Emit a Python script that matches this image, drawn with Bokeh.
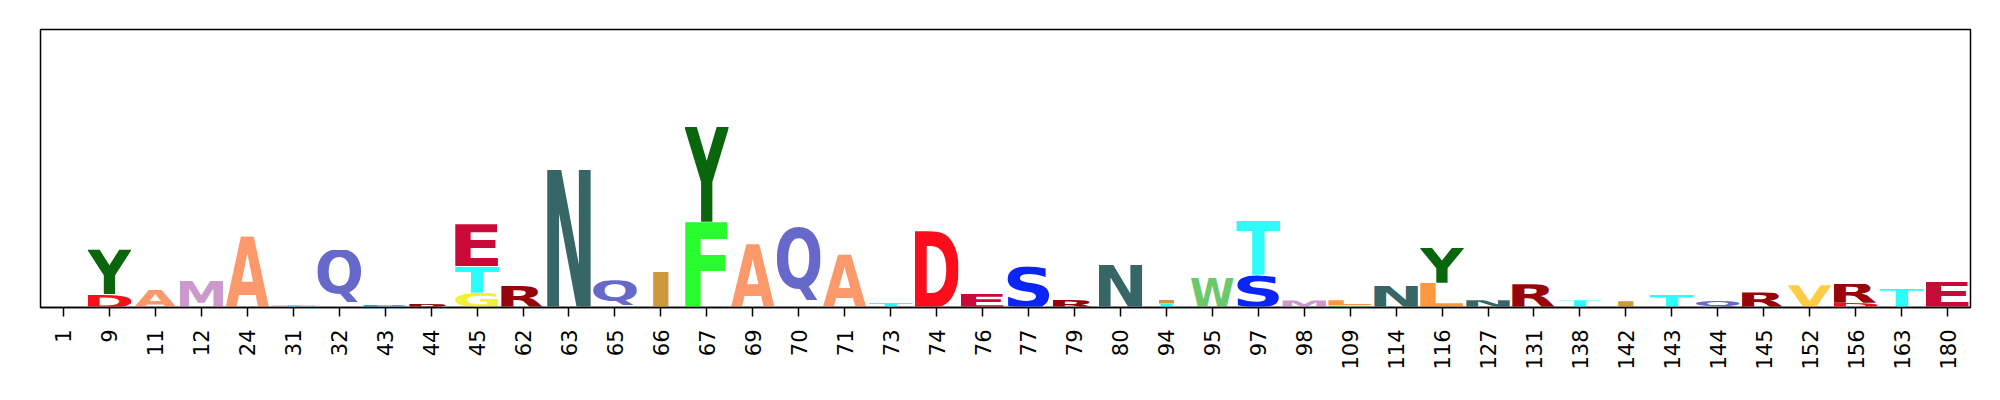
import math
from urllib.parse import quote

from bokeh.plotting import figure
from bokeh.models import ColumnDataSource, FixedTicker
from bokeh.embed import file_html
from bokeh.resources import INLINE

# ---------------- data ----------------
positions = ["1", "9", "11", "12", "24", "31", "32", "43", "44", "45", "62", "63", "65",
             "66", "67", "69", "70", "71", "73", "74", "76", "77", "79", "80", "94", "95",
             "97", "98", "109", "114", "116", "127", "131", "138", "142", "143", "144",
             "145", "152", "156", "163", "180"]

# stacked glyphs, listed bottom -> top within each site
glyph_site = ["9", "9", "11", "12", "24", "31", "32", "43", "44", "45", "45", "45", "62",
              "63", "65", "66", "67", "67", "69", "70", "71", "73", "74", "76", "77", "79",
              "80", "94", "94", "95", "97", "97", "98", "109", "109", "114", "116", "116",
              "127", "131", "138", "142", "143", "144", "145", "152", "156", "156", "163",
              "180"]
glyph_letter = ["D", "Y", "A", "M", "A", "T", "Q", "P", "R", "G", "T", "E", "R",
                "N", "Q", "I", "F", "Y", "A", "Q", "A", "T", "D", "E", "S", "R",
                "N", "T", "I", "W", "S", "T", "M", "F", "L", "N", "L", "Y",
                "N", "R", "T", "I", "T", "Q", "R", "V", "D", "R", "T",
                "E"]
glyph_height = [0.144, 0.482, 0.200, 0.295, 0.770, 0.030, 0.620, 0.032, 0.040, 0.160, 0.285, 0.453, 0.240,
                1.490, 0.295, 0.395, 0.925, 1.025, 0.683, 0.877, 0.572, 0.060, 0.823, 0.158, 0.446, 0.086,
                0.464, 0.043, 0.040, 0.324, 0.353, 0.583, 0.076, 0.022, 0.057, 0.237, 0.266, 0.378,
                0.079, 0.251, 0.079, 0.068, 0.144, 0.079, 0.162, 0.241, 0.050, 0.208, 0.205,
                0.277]

# ---------------- styling ----------------
COLORS = {
    'F': (.16, .99, .18), 'Y': (.04, .40, .05), 'L': (.99, .60, .25), 'V': (1.0, .80, .27),
    'I': (.80, .60, .24), 'W': (.42, .79, .42), 'A': (.99, .60, .42), 'S': (.04, .14, .98),
    'T': (.18, .99, .98), 'M': (.80, .60, .80), 'N': (.21, .40, .40), 'Q': (.40, .41, .79),
    'R': (.59, .02, .04), 'E': (.79, .04, .22), 'G': (.95, .94, .22), 'D': (.99, .05, .11),
    'P': (.10, .61, .99),
}
# approximate ink boxes of DejaVu Sans Bold glyphs, 1/1000 em (xmin, xmax, ymin, ymax)
INK = {
    'A': (4, 770, 0, 729), 'D': (92, 772, 0, 729), 'E': (92, 620, 0, 729),
    'F': (92, 614, 0, 729), 'G': (50, 760, -14, 743), 'I': (92, 280, 0, 729),
    'L': (92, 620, 0, 729), 'M': (92, 904, 0, 729), 'N': (92, 745, 0, 729),
    'P': (92, 700, 0, 729), 'Q': (50, 800, -240, 743), 'R': (92, 765, 0, 729),
    'S': (58, 665, -14, 743), 'T': (8, 674, 0, 729), 'V': (8, 766, 0, 729),
    'W': (16, 1087, 0, 729), 'Y': (-2, 726, 0, 729),
}

FRAME_W, FRAME_H = 1930, 278
Y_MAX = 3.0
LETTER_W = 0.95
n = len(positions)
px_x = FRAME_W / n
px_y = FRAME_H / Y_MAX
E_INK_W = INK['E'][1] - INK['E'][0]


def hexcol(rgb):
    return "#%02x%02x%02x" % tuple(int(round(c * 255)) for c in rgb)


def letter_url(ch, wpx, hpx):
    x0, x1, y0, y1 = INK[ch]
    svg = ('<svg xmlns="http://www.w3.org/2000/svg" width="%.2f" height="%.2f" '
           'viewBox="%d %d %d %d" preserveAspectRatio="none">'
           '<text x="0" y="0" font-family="DejaVu Sans" font-weight="bold" '
           'font-size="1000" fill="%s">%s</text></svg>'
           % (wpx, hpx, x0, -y1, x1 - x0, y1 - y0, hexcol(COLORS[ch]), ch))
    return "data:image/svg+xml;charset=utf-8," + quote(svg)


idx = {s: i for i, s in enumerate(positions)}
bottoms = {}
xs, ys, ws, hs, urls = [], [], [], [], []
for site, ch, h in zip(glyph_site, glyph_letter, glyph_height):
    i = idx[site]
    b = bottoms.get(i, 0.0)
    ink_w = INK[ch][1] - INK[ch][0]
    w = LETTER_W * min(1.0, ink_w / E_INK_W)   # never stretch more than 'E'
    xs.append(i - w / 2)
    ys.append(b)
    ws.append(w)
    hs.append(h)
    urls.append(letter_url(ch, w * px_x, h * px_y))
    bottoms[i] = b + h

src = ColumnDataSource(dict(x=xs, y=ys, w=ws, h=hs, url=urls, letter=glyph_letter))

p = figure(frame_width=FRAME_W, frame_height=FRAME_H,
           x_range=(-0.5, n - 0.5), y_range=(0, Y_MAX),
           output_backend="svg", toolbar_location=None, y_axis_location=None,
           min_border_left=40, min_border_top=29, min_border_right=14, min_border_bottom=10)

p.image_url(url="url", x="x", y="y", w="w", h="h", anchor="bottom_left", source=src)

p.grid.visible = False
p.outline_line_color = "black"
p.outline_line_width = 1.5
p.background_fill_color = "white"
p.border_fill_color = "white"

ax = p.xaxis[0]
ax.ticker = FixedTicker(ticks=list(range(n)))
ax.major_label_overrides = {i: s for i, s in enumerate(positions)}
ax.major_label_orientation = math.pi / 2
ax.major_tick_out = 9
ax.major_tick_in = 0
ax.minor_tick_out = 0
ax.minor_tick_in = 0
ax.major_tick_line_width = 1.5
ax.major_tick_line_color = "black"
ax.axis_line_width = 1.5
ax.axis_line_color = "black"
ax.major_label_standoff = 13
ax.major_label_text_font = "DejaVu Sans"
ax.major_label_text_font_size = "21px"
ax.major_label_text_color = "black"

open("out.html", "w").write(file_html(p, INLINE))
